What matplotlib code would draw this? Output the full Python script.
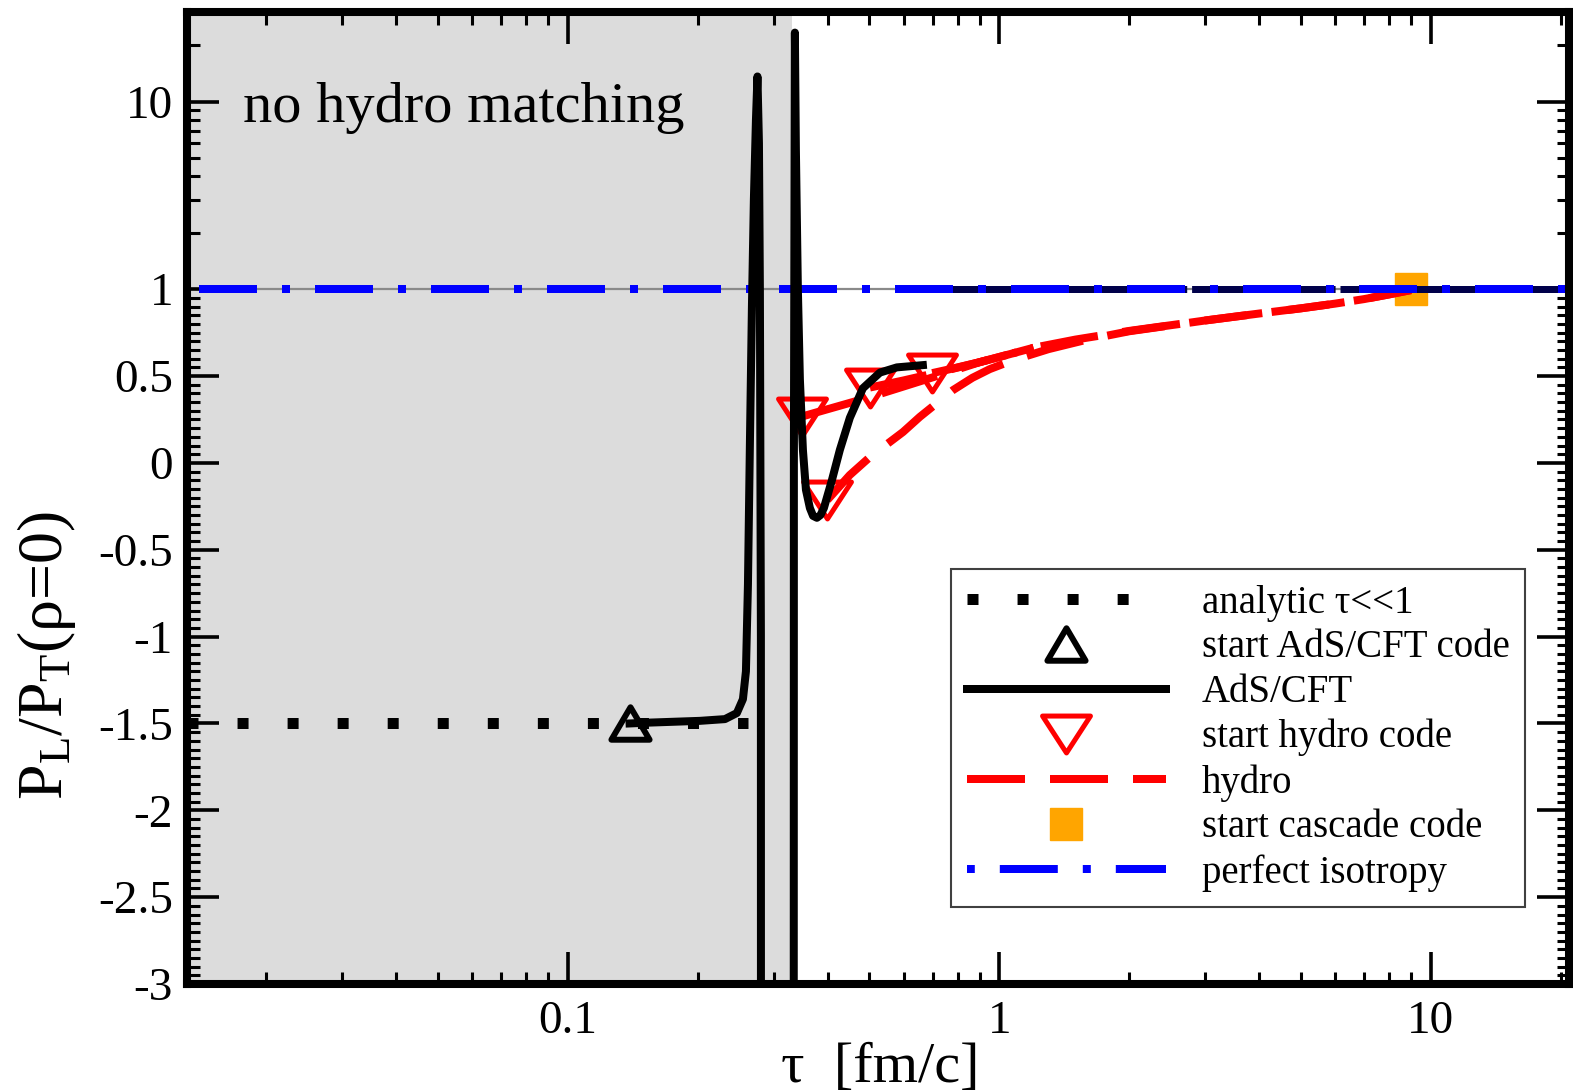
import numpy as np
import matplotlib
matplotlib.use("Agg")
import matplotlib.pyplot as plt
from matplotlib.ticker import FixedLocator, FixedFormatter, NullFormatter
from matplotlib.path import Path
from matplotlib.markers import MarkerStyle

plt.rcParams['font.family'] = ['Liberation Serif', 'DejaVu Serif']
plt.rcParams['mathtext.fontset'] = 'custom'
plt.rcParams['mathtext.rm'] = 'Liberation Serif'
plt.rcParams['mathtext.it'] = 'Liberation Serif:italic'
plt.rcParams['axes.unicode_minus'] = False

# ---------------- data ----------------
tau_min, tau_max = 0.0131, 20.9
y_min, y_max = -3.0, 30.0
no_match_tau = 0.33

analytic_tau = [0.0131, 0.2614]
analytic_val = [-1.5, -1.5]

ads_start_tau = [0.139]
ads_start_val = [-1.5]

ads_tau = [0.139, 0.1549, 0.2023, 0.2312, 0.2464, 0.2545, 0.2586, 0.2614, 0.2641,
           0.2670, 0.2698, 0.2728, 0.2750, 0.2772, 0.2786, 0.2801, 0.2816,
           0.3304, 0.3340, 0.3358, 0.3376, 0.3412, 0.3449, 0.3505, 0.3562, 0.3638,
           0.3700, 0.3777, 0.3850, 0.3920, 0.4091, 0.4269, 0.4503, 0.4828, 0.5286,
           0.5787, 0.6648]
ads_val = [-1.50, -1.495, -1.485, -1.475, -1.44, -1.36, -1.2, -0.7, 0.1,
           0.9, 3.0, 8.0, 13.6, 6.0, 1.0, -1.0, -50.0,
           -50.0, 0.0, 23.3, 5.56, 1.0, 0.48, 0.075, -0.155, -0.26,
           -0.305, -0.316, -0.30, -0.26, -0.10, 0.075, 0.26, 0.43, 0.52,
           0.55, 0.563]

hydro_start_tau = [0.3487, 0.3995, 0.5013, 0.6988]
hydro_start_val = [0.267, -0.213, 0.434, 0.517]

hydro1_tau = [0.3487, 0.4937, 0.60, 0.7289, 0.9, 1.0, 1.2, 1.5, 2.0, 3.0, 4.0, 5.0, 6.0, 7.0, 8.0, 9.0]
hydro1_val = [0.267, 0.374, 0.44, 0.506, 0.58, 0.61, 0.663, 0.71, 0.76, 0.82, 0.86, 0.89, 0.917, 0.943, 0.97, 0.995]

hydro2_tau = [0.3995, 0.45, 0.5013, 0.598, 0.654, 0.7817, 0.866, 0.95, 1.072, 1.3, 1.6, 2.0, 3.0, 4.0, 5.0, 6.0, 7.0, 8.0, 9.0]
hydro2_val = [-0.213, -0.07, 0.034, 0.178, 0.265, 0.42, 0.49, 0.54, 0.59, 0.655, 0.71, 0.758, 0.82, 0.86, 0.89, 0.917, 0.943, 0.97, 0.995]

hydro3_tau = [0.5013, 0.60, 0.6988, 0.76, 0.9, 1.0, 1.2]
hydro3_val = [0.434, 0.475, 0.513, 0.535, 0.58, 0.61, 0.663]

hydro4_tau = [0.6988, 0.76, 0.9, 1.0, 1.2]
hydro4_val = [0.517, 0.537, 0.58, 0.61, 0.663]

cascade_tau = [9.0]
cascade_val = [1.0]

iso_tau = [tau_min, tau_max]
iso_val = [1.0, 1.0]
iso_under_tau = [0.63, tau_max]
iso_under_val = [1.0, 1.0]

x_major = [0.1, 1, 10]
x_labels = ['0.1', '1', '10']
y_major = [-3, -2.5, -2, -1.5, -1, -0.5, 0, 0.5, 1, 10]
y_labels = ['-3', '-2.5', '-2', '-1.5', '-1', '-0.5', '0', '0.5', '1', '10']

legend_labels = ['analytic τ<<1', 'start AdS/CFT code', 'AdS/CFT', 'start hydro code',
                 'hydro', 'start cascade code', 'perfect isotropy']

# ---------------- scale: linear below 1, log above ----------------
K = 188.0 / 174.0


def fwd(y):
    y = np.asarray(y, dtype=float)
    return np.where(y <= 1, y, 1 + K * np.log10(np.maximum(y, 1)))


def inv(t):
    t = np.asarray(t, dtype=float)
    return np.where(t <= 1, t, 10 ** ((np.maximum(t, 1) - 1) / K))


W, H = 1573, 1091
fig = plt.figure(figsize=(W / 100, H / 100), dpi=100)
ax = fig.add_axes([187 / W, 1 - 984 / H, 1382 / W, 972 / H])
ax.set_xscale('log')
ax.set_yscale('function', functions=(fwd, inv))
ax.set_xlim(tau_min, tau_max)
ax.set_ylim(y_min, y_max)

PX = 0.72  # points per pixel
LW = 8 * PX

tri_down = MarkerStyle(Path([(-1, 0.77), (1, 0.77), (0, -0.77), (-1, 0.77)], closed=True), joinstyle='miter')
tri_up = MarkerStyle(Path([(-1, -0.85), (1, -0.85), (0, 0.85), (-1, -0.85)], closed=True), joinstyle='miter')

ax.axvspan(tau_min, no_match_tau, color='#dcdcdc', lw=0, zorder=0)
ax.axhline(1.0, color='#8a8a8a', lw=1.6, zorder=1)

sq, = ax.plot(cascade_tau, cascade_val, ls='none', marker='s', ms=22.5, color='#ffa500',
              mec='#ffa500', zorder=2)

red_dash = (0, (7.25, 3.125))
hyd = None
for tt, vv in [(hydro1_tau, hydro1_val), (hydro2_tau, hydro2_val),
               (hydro3_tau, hydro3_val), (hydro4_tau, hydro4_val)]:
    l, = ax.plot(tt, vv, color='red', lw=LW, ls=red_dash, dash_capstyle='butt', zorder=3)
    if hyd is None:
        hyd = l
htri, = ax.plot(hydro_start_tau, hydro_start_val, ls='none', marker=tri_down, ms=34.5,
                mfc='none', mec='red', mew=3.6, zorder=4)

ax.plot(iso_under_tau, iso_under_val, color='#00004a', lw=7 * PX,
        ls=(2.6, (20.5, 0.7)), dash_capstyle='butt', zorder=4.5)
iso, = ax.plot(iso_tau, iso_val, color='#0000ff', lw=LW,
               ls=(13.0, (7.25, 3.125, 1.0, 3.125)), dash_capstyle='butt', zorder=5)

ana, = ax.plot(analytic_tau, analytic_val, color='black', lw=11 * PX,
               ls=(0, (1, 3.55)), dash_capstyle='butt', zorder=6)
ads, = ax.plot(ads_tau, ads_val, color='black', lw=LW, solid_joinstyle='round', zorder=6)
atri, = ax.plot(ads_start_tau, ads_start_val, ls='none', marker=tri_up, ms=27.5,
                mfc='none', mec='black', mew=4.3, zorder=7)

ax.text(0.0405, 0.8868, 'no hydro matching', transform=ax.transAxes, fontsize=42,
        ha='left', va='baseline', zorder=8)

# ticks
x_minor = [m * 10.0 ** e for e in (-2, -1, 0, 1) for m in range(2, 10)
           if tau_min <= m * 10.0 ** e <= tau_max and m * 10.0 ** e not in x_major]
y_minor = [round(v, 2) for v in np.arange(-3, 1.0001, 0.05)] + [2, 3, 4, 5, 6, 7, 8, 9, 20]
y_minor = [v for v in y_minor if v not in y_major]
ax.xaxis.set_major_locator(FixedLocator(x_major))
ax.xaxis.set_major_formatter(FixedFormatter(x_labels))
ax.xaxis.set_minor_locator(FixedLocator(x_minor))
ax.xaxis.set_minor_formatter(NullFormatter())
ax.yaxis.set_major_locator(FixedLocator(y_major))
ax.yaxis.set_major_formatter(FixedFormatter(y_labels))
ax.yaxis.set_minor_locator(FixedLocator(y_minor))
ax.yaxis.set_minor_formatter(NullFormatter())

ax.tick_params(which='major', direction='in', length=23, width=2.6, top=True, right=True,
               labelsize=34)
ax.tick_params(which='minor', direction='in', length=9, width=2.2, top=True, right=True)
ax.tick_params(axis='y', which='major', pad=10)
ax.tick_params(axis='x', which='major', pad=12)
for s in ax.spines.values():
    s.set_linewidth(5.8)
    s.set_zorder(10)

ax.set_xlabel('τ  [fm/c]', fontsize=42, va='baseline')
ax.xaxis.set_label_coords((880 - 187) / 1382, (984 - 1082) / 972)
ax.set_ylabel(r'P$_{\rm L}$/P$_{\rm T}$(ρ=0)', fontsize=46, va='baseline')
ax.yaxis.set_label_coords((62 - 187) / 1382, (984 - 656) / 972)

leg = ax.legend(handles=[ana, atri, ads, htri, hyd, sq, iso], labels=legend_labels,
                loc='upper left', bbox_to_anchor=(951 / W, 1 - 569 / H),
                bbox_transform=fig.transFigure, fontsize=28, frameon=True, fancybox=False,
                edgecolor='#404040', framealpha=1, borderpad=0.4, labelspacing=0.2,
                handlelength=5.12, handletextpad=0.93, borderaxespad=0, numpoints=1)
leg.get_frame().set_linewidth(1.5)
leg.set_zorder(9)
leg.get_lines()[6].set_linestyle((10.4, (7.25, 3.125, 1.0, 3.125)))

fig.savefig('out.png', dpi=100)
